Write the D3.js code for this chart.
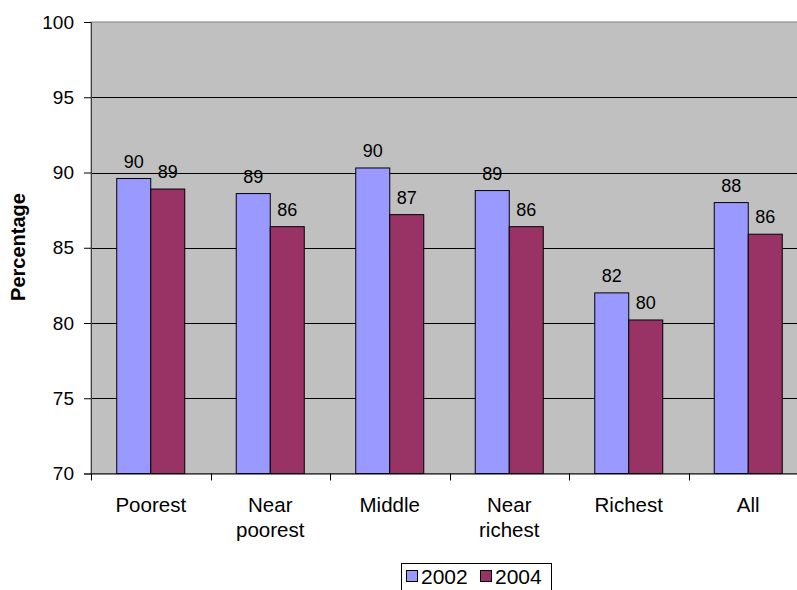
<!DOCTYPE html>
<head>
<meta charset="utf-8">
<script src="https://d3js.org/d3.v7.min.js"></script>
<style>
  body { margin: 0; background: #fff; }
  text { font-family: "Liberation Sans", Arial, sans-serif; fill: #000; }
</style>
</head>
<body>
<div id="chart"></div>
<script>

// data
var categories = ["Poorest", "Near poorest", "Middle", "Near richest", "Richest", "All"];
var years = ["2002", "2004"];
var values2002 = [89.6, 88.6, 90.3, 88.8, 82.0, 88.0];
var values2004 = [88.9, 86.4, 87.2, 86.4, 80.2, 85.9];
var yTicks = [70, 75, 80, 85, 90, 95, 100];
var colors = ["#9999FF", "#993366"];

var width = 797,
    height = 590;

var svg = d3.select("#chart")
    .append("svg")
    .attr("width", width)
    .attr("height", height);

// plot area (runs off the right edge, like the original)
var plotLeft = 91, plotTop = 22, plotBottom = 473.5, plotRight = 808;

var x = d3.scaleBand()
    .domain(categories)
    .range([plotLeft, plotRight]);

var xi = d3.scaleBand()
    .domain(years)
    .range([0, x.bandwidth()])
    .paddingOuter(0.757)
    .paddingInner(0);

var y = d3.scaleLinear()
    .domain([70, 100])
    .range([plotBottom, plotTop]);

// grey background
svg.append("rect")
    .attr("x", plotLeft)
    .attr("y", plotTop)
    .attr("width", plotRight - plotLeft)
    .attr("height", plotBottom - plotTop)
    .attr("fill", "#C0C0C0")
    .attr("stroke", "#808080")
    .attr("stroke-width", 1);

// gridlines
svg.selectAll(".grid")
    .data(yTicks.slice(1, -1))
    .enter().append("line")
    .attr("x1", plotLeft)
    .attr("x2", plotRight)
    .attr("y1", d => Math.round(y(d)) + 0.5)
    .attr("y2", d => Math.round(y(d)) + 0.5)
    .attr("stroke", "#000")
    .attr("stroke-width", 1);

// bars
var rows = categories.map((c, i) => ({cat: c, vals: [values2002[i], values2004[i]]}));

var group = svg.selectAll(".group")
    .data(rows)
    .enter().append("g")
    .attr("transform", d => "translate(" + x(d.cat) + ",0)");

group.selectAll("rect")
    .data(d => d.vals.map((v, j) => ({year: years[j], v: v, j: j})))
    .enter().append("rect")
    .attr("x", d => xi(d.year))
    .attr("width", xi.bandwidth())
    .attr("y", d => y(d.v))
    .attr("height", d => y(70) - y(d.v))
    .attr("fill", d => colors[d.j])
    .attr("stroke", "#000")
    .attr("stroke-width", 1);

// value labels
group.selectAll(".lbl")
    .data(d => d.vals.map((v, j) => ({year: years[j], v: v, j: j})))
    .enter().append("text")
    .attr("x", d => xi(d.year) + xi.bandwidth() / 2)
    .attr("y", d => y(d.v) - 11)
    .attr("text-anchor", "middle")
    .style("font-size", "18px")
    .text(d => Math.round(d.v));

// y axis
var yAxis = svg.append("g")
    .attr("transform", "translate(" + plotLeft + ",0)")
    .call(d3.axisLeft(y).tickValues(yTicks).tickSize(7).tickPadding(10));
yAxis.select(".domain").attr("stroke", "#404040");
yAxis.selectAll(".tick line").attr("stroke", "#000");
yAxis.selectAll("text").style("font-size", "19px").attr("fill", "#000");

// x axis
var xAxis = svg.append("g")
    .attr("transform", "translate(0," + plotBottom + ")")
    .call(d3.axisBottom(x).tickSize(0).tickFormat(""));
xAxis.select(".domain").attr("stroke", "#000");

// category ticks at band edges
svg.selectAll(".xtick")
    .data(categories)
    .enter().append("line")
    .attr("x1", d => Math.round(x(d)) + 0.5)
    .attr("x2", d => Math.round(x(d)) + 0.5)
    .attr("y1", plotBottom)
    .attr("y2", plotBottom + 7)
    .attr("stroke", "#000");

// category labels, split on two lines
svg.selectAll(".xlbl")
    .data(categories)
    .enter().append("text")
    .attr("text-anchor", "middle")
    .style("font-size", "20.5px")
    .each(function(d) {
        var words = d.split(" ");
        var t = d3.select(this);
        words.forEach(function(w, k) {
            t.append("tspan")
                .attr("x", x(d) + x.bandwidth() / 2)
                .attr("y", 512 + k * 25)
                .text(w);
        });
    });

// y title
svg.append("text")
    .attr("transform", "translate(25,247) rotate(-90)")
    .attr("text-anchor", "middle")
    .style("font-size", "20px")
    .style("font-weight", "bold")
    .text("Percentage");

// legend
var legend = svg.append("g").attr("transform", "translate(401,563)");
legend.append("rect")
    .attr("x", 0.5).attr("y", 0.5)
    .attr("width", 150).attr("height", 40)
    .attr("fill", "#fff")
    .attr("stroke", "#000");

var item = legend.selectAll(".item")
    .data(years)
    .enter().append("g")
    .attr("transform", (d, i) => "translate(" + (5 + i * 74) + ",0)");
item.append("rect")
    .attr("x", 0.5).attr("y", 7.5)
    .attr("width", 11).attr("height", 11)
    .attr("fill", (d, i) => colors[i])
    .attr("stroke", "#000");
item.append("text")
    .attr("x", 15)
    .attr("y", 21)
    .style("font-size", "21px")
    .text(d => d);

</script>
</body>
